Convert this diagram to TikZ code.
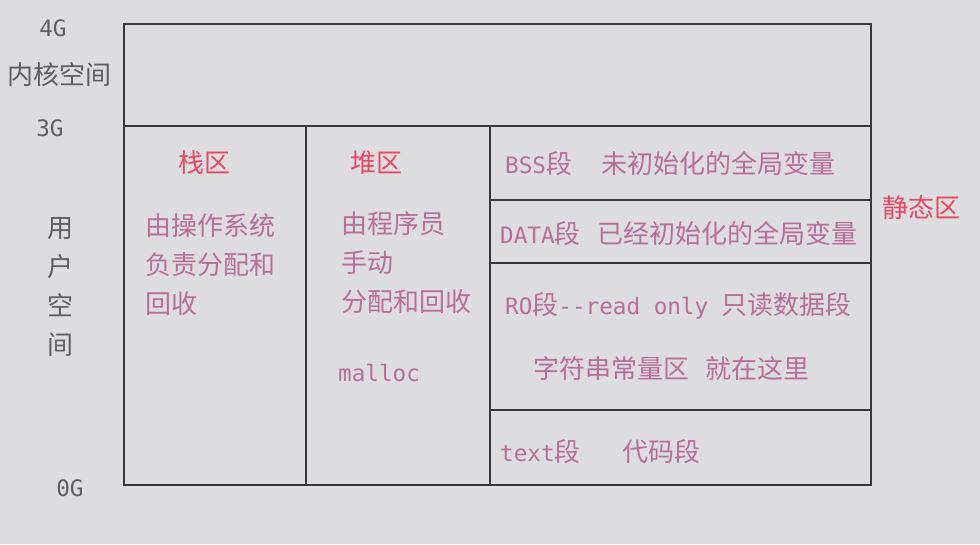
\documentclass[tikz,border=0pt]{standalone}
\usepackage{fontspec}
\setmainfont{Noto Sans CJK SC}
\setmonofont[Scale=0.87]{DejaVu Sans Mono}
\definecolor{bgcol}{RGB}{221,221,224}
\definecolor{linecol}{RGB}{55,55,60}
\definecolor{graycol}{RGB}{95,95,98}
\definecolor{redcol}{RGB}{232,72,100}
\definecolor{pinkcol}{RGB}{185,110,150}
\begin{document}
\begin{tikzpicture}[
  x=1pt, y=-1pt,
  wall/.style={draw=linecol, line width=2pt},
  lbl/.style={
    inner sep=0pt, text height=.88em, text depth=.12em, yshift=-6pt,
    font=\fontsize{26}{30}\selectfont
  },
  side/.style={lbl, text=graycol},
  title/.style={lbl, text=redcol},
  body/.style={lbl, text=pinkcol, anchor=west}
]
\def\ystep{39}

% --- Background and frame ---
\fill[bgcol] (0,0) rectangle (980,544);
\useasboundingbox (0,0) rectangle (980,544);
\coordinate (tl) at (124,24);
\coordinate (br) at (871,485);
\draw[wall] (tl) rectangle (br);
\draw[wall] (124,126) -- (871,126);
\draw[wall] (306,126) -- (306,485);
\draw[wall] (490,126) -- (490,485);
\foreach \y in {200,263,410}
  \draw[wall] (490,\y) -- (871,\y);

% --- Address labels (left) ---
\node[side] (g4) at (53,27) {\texttt{4G}};
\node[side] (kern) at (60,75) {内核空间};
\node[side] (g3) at (50,127) {\texttt{3G}};
\foreach \c [count=\i] in {用,户,空,间}
  \node[side] (user\i) at (60,{228+\ystep*(\i-1)}) {\c};
\node[side] (g0) at (70,487) {\texttt{0G}};

% --- Stack ---
\node[title] (stack) at (204,163) {栈区};
\foreach \t [count=\i] in {由操作系统,负责分配和,回收}
  \node[body] (stack\i) at (145,{226+\ystep*(\i-1)}) {\t};

% --- Heap ---
\node[title] (heap) at (376,163) {堆区};
\foreach \t [count=\i] in {由程序员,手动,分配和回收}
  \node[body] (heap\i) at (341,{224+\ystep*(\i-1)}) {\t};
\node[body] (malloc) at (338,372) {\texttt{malloc}};

% --- Segments (right) ---
\node[body] (bss) at (505,164) {\texttt{BSS}段\hspace{29pt}未初始化的全局变量};
\node[body] (data) at (500,234) {\texttt{DATA}段\hspace{17pt}已经初始化的全局变量};
\node[body] (ro) at (505,305) {\texttt{RO}段\texttt{{-}{-}read only }只读数据段};
\node[body] (str) at (533,369) {字符串常量区\hspace{16pt}就在这里};
\node[body] (text) at (500,452) {\texttt{text}段\hspace{42pt}代码段};
\node[title] (static) at (921,208) {静态区};

\end{tikzpicture}
\end{document}
